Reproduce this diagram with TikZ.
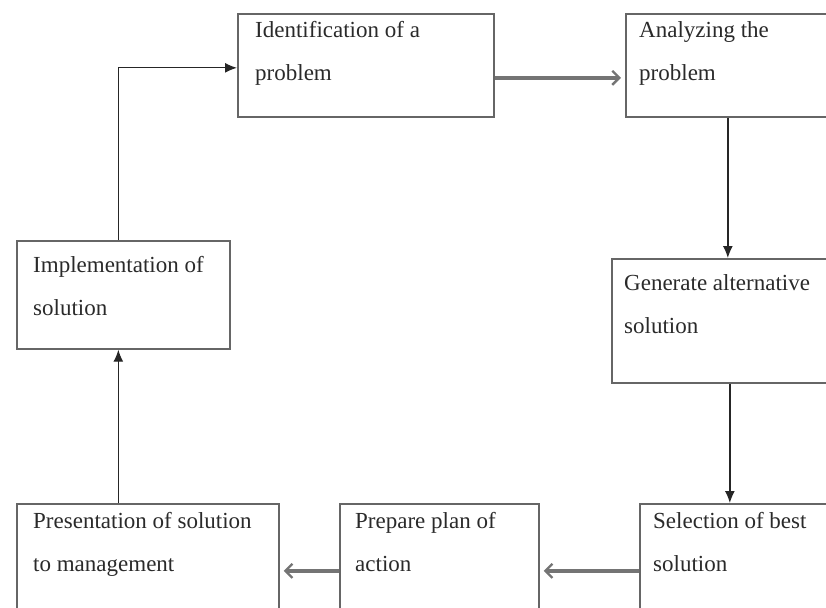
\documentclass[tikz,border=0pt]{standalone}
\usepackage{fontspec}
\setmainfont{Liberation Serif}
\usetikzlibrary{positioning,arrows.meta}
\definecolor{edge}{HTML}{666666}
\definecolor{ink}{HTML}{2A2A2A}
\definecolor{flow}{HTML}{747474}

\begin{document}
\begin{tikzpicture}[x=1pt,y=1pt,
  box/.style={draw=edge,line width=1.7pt,anchor=north west,inner sep=0pt},
  lbl/.style={anchor=north west,inner sep=0pt,align=left,text=ink,
    font=\fontsize{23}{43}\selectfont},
  thinarrow/.style={draw=black!85,line width=1.3pt,-{Latex[length=12pt,width=10pt]}},
  flowarrow/.style={draw=flow,line width=3.6pt,shorten >=4pt,
    -{Straight Barb[length=7pt,width=14pt,line width=2.4pt]}}]
  \useasboundingbox (0,0) rectangle (826,-607);
  \clip (0,0) rectangle (826,-607);
  % boxes
  \node[box,minimum width=256pt,minimum height=103pt] (id) at (237,-13) {};
  \node[box,minimum width=204pt,minimum height=103pt] (an) at (625,-13) {};
  \node[box,minimum width=236pt,minimum height=124pt] (gen) at (611,-258) {};
  \node[box,minimum width=230pt,minimum height=134pt] (sel) at (639,-503) {};
  \node[box,minimum width=199pt,minimum height=134pt] (prep) at (339,-503) {};
  \node[box,minimum width=262pt,minimum height=134pt] (pres) at (16,-503) {};
  \node[box,minimum width=213pt,minimum height=108pt] (impl) at (16,-240) {};
  % texts
  \node[lbl,below right=8pt and 18pt of id.north west] (idt) {Identification of a\\problem};
  \node[lbl,below right=8pt and 14pt of an.north west] (ant) {Analyzing the\\problem};
  \node[lbl,below right=16pt and 13pt of gen.north west] (gent) {Generate alternative\\solution};
  \node[lbl,below right=9pt and 14pt of sel.north west] (selt) {Selection of best\\solution};
  \node[lbl,below right=9pt and 16pt of prep.north west] (prept) {Prepare plan of\\action};
  \node[lbl,below right=9pt and 17pt of pres.north west] (prest) {Presentation of solution\\to management};
  \node[lbl,below right=16pt and 17pt of impl.north west] (implt) {Implementation of\\solution};
  % connectors
  \draw[thinarrow] ([xshift=-5pt]impl.north) |- ([yshift=-2.5pt]id.west);
  \draw[flowarrow] ([yshift=-12.5pt]id.east) -- ([yshift=-12.5pt]an.west);
  \draw[thinarrow] (an.south) -- (an.south |- gen.north);
  \draw[thinarrow] (gen.south) -- (gen.south |- sel.north);
  \draw[flowarrow] (sel.west) -- (prep.east);
  \draw[flowarrow] (prep.west) -- (pres.east);
  \draw[thinarrow] ([xshift=-5pt]impl.south |- pres.north) -- ([xshift=-5pt]impl.south);
\end{tikzpicture}
\end{document}
